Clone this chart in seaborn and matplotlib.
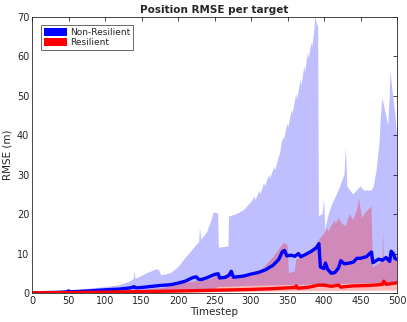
import numpy as np
import matplotlib
matplotlib.use("Agg")
import matplotlib.pyplot as plt
import seaborn as sns
from matplotlib.patches import Patch

# ---------------- data ----------------
# Non-Resilient: mean RMSE
nr_mean_t = [0, 20, 40, 48, 50, 52, 65, 80, 100, 120, 135, 140, 142, 150, 160, 175, 190, 200, 210, 220, 225, 228,
             232, 240, 250, 255, 257, 265, 270, 273, 276, 290, 300, 310, 320, 330, 338, 343, 346, 349, 355, 360,
             365, 368, 375, 382, 390, 393, 395, 400, 402, 405, 410, 415, 420, 423, 428, 435, 440, 445, 450, 458,
             465, 467, 475, 480, 485, 490, 492, 495, 497, 500]
nr_mean_v = [0.05, 0.1, 0.2, 0.3, 0.55, 0.3, 0.4, 0.55, 0.8, 1.0, 1.3, 1.6, 1.3, 1.4, 1.6, 1.9, 2.1, 2.5, 3.0, 3.9,
             4.1, 3.5, 3.4, 3.9, 4.7, 4.9, 3.8, 4.0, 4.5, 5.5, 4.0, 4.3, 4.8, 5.2, 5.9, 7.0, 8.5, 10.5, 10.8, 9.4,
             9.6, 9.3, 10.0, 9.2, 9.8, 10.5, 11.5, 12.5, 6.6, 6.2, 7.6, 6.0, 5.0, 5.2, 6.4, 8.2, 7.4, 7.6, 7.8, 8.8,
             8.8, 9.2, 10.4, 7.7, 8.6, 8.3, 9.0, 8.0, 10.6, 10.0, 8.8, 8.5]

# Non-Resilient: upper and lower band
nr_hi_t = [0, 50, 100, 120, 135, 139, 140, 142, 150, 160, 170, 174, 177, 190, 200, 210, 220, 229, 230, 232, 240,
           245, 249, 255, 256, 269, 270, 280, 290, 300, 305, 306, 312, 313, 318, 319, 325, 326, 332, 333, 338,
           340, 342, 344, 345, 350, 351, 356, 357, 362, 363, 368, 369, 373, 374, 378, 379, 383, 384, 387, 388,
           390, 392, 393, 398, 400, 402, 405, 410, 420, 428, 430, 432, 440, 445, 450, 455, 460, 465, 468, 472,
           476, 478, 480, 484, 488, 490, 491, 494, 498, 500]
nr_hi_v = [0.2, 0.6, 1.5, 2.0, 3.0, 3.5, 5.5, 3.6, 4.3, 5.2, 6.0, 5.8, 4.5, 5.0, 6.5, 8.8, 11.0, 13.0, 16.5, 13.5,
           15.5, 18.0, 20.5, 20.2, 11.5, 11.8, 19.4, 20.0, 21.0, 23.0, 24.5, 23.5, 26.0, 25.0, 28.0, 27.0, 30.0,
           29.0, 32.0, 31.0, 34.5, 35.5, 38.0, 39.5, 38.8, 43.0, 42.0, 46.5, 45.5, 50.5, 49.0, 54.0, 52.5, 57.5,
           56.0, 61.0, 59.5, 63.5, 62.5, 67.0, 70.0, 68.5, 67.5, 19.5, 20.0, 23.8, 16.0, 19.0, 22.0, 26.0, 30.0,
           37.0, 27.0, 25.0, 26.0, 27.0, 26.0, 26.0, 26.0, 27.0, 31.0, 38.0, 45.0, 49.5, 46.0, 42.5, 50.0, 56.4,
           51.0, 45.0, 40.0]
nr_lo_t = [0, 100, 200, 250, 255, 300, 350, 400, 450, 500]
nr_lo_v = [0.0, 0.1, 0.4, 1.0, 1.5, 1.8, 2.0, 2.2, 2.4, 2.6]

# Resilient: mean RMSE
r_mean_t = [0, 50, 100, 150, 200, 250, 300, 330, 350, 360, 362, 364, 380, 392, 400, 410, 420, 423, 440, 460, 475,
            480, 482, 485, 500]
r_mean_v = [0.05, 0.1, 0.2, 0.35, 0.5, 0.7, 0.9, 1.1, 1.3, 1.4, 1.8, 1.2, 1.5, 2.0, 2.0, 1.7, 2.0, 1.5, 1.8, 1.9,
            2.1, 2.2, 3.0, 2.2, 2.6]

# Resilient: upper and lower band
r_hi_t = [0, 50, 100, 150, 180, 200, 210, 225, 240, 250, 255, 258, 262, 270, 274, 285, 300, 310, 320, 330, 340,
          345, 350, 352, 360, 362, 370, 380, 390, 395, 400, 405, 406, 410, 415, 416, 420, 425, 430, 435, 440,
          445, 448, 452, 455, 460, 465, 467, 475, 480, 481, 482, 490, 500]
r_hi_v = [0.1, 0.2, 0.4, 0.8, 1.3, 2.3, 2.6, 3.0, 3.3, 4.0, 5.5, 3.5, 4.0, 5.3, 3.9, 3.8, 4.5, 5.0, 7.0, 9.0, 11.5,
          12.7, 12.2, 5.0, 5.5, 8.5, 9.0, 10.5, 12.5, 14.0, 15.0, 16.5, 15.5, 17.0, 18.5, 17.5, 19.0, 17.5, 17.0,
          20.0, 18.5, 21.0, 24.0, 19.0, 20.0, 21.0, 22.0, 6.5, 7.5, 8.0, 16.0, 8.0, 9.0, 10.0]
r_lo_t = [0, 200, 300, 400, 500]
r_lo_v = [0.0, 0.1, 0.3, 0.5, 0.6]

labels = ["Non-Resilient", "Resilient"]
x_ticks = [0, 50, 100, 150, 200, 250, 300, 350, 400, 450, 500]
y_ticks = [0, 10, 20, 30, 40, 50, 60, 70]

# ---------------- plot ----------------
sns.set_style("white")
plt.rcParams["font.family"] = ["DejaVu Sans"]

fig = plt.figure(figsize=(4.07, 3.22), dpi=100)
ax = fig.add_axes([32 / 407, 1 - 293 / 322, 365 / 407, 276 / 322])

blue_fill = (0.0, 0.0, 1.0, 0.25)
red_fill = (1.0, 0.0, 0.0, 0.28)

ax.fill(np.r_[nr_hi_t, nr_lo_t[::-1]], np.r_[nr_hi_v, nr_lo_v[::-1]], color=blue_fill, lw=0)
ax.fill(np.r_[r_hi_t, r_lo_t[::-1]], np.r_[r_hi_v, r_lo_v[::-1]], color=red_fill, lw=0)

sns.lineplot(x=nr_mean_t, y=nr_mean_v, ax=ax, color=(0, 0, 1), lw=2.4)
sns.lineplot(x=r_mean_t, y=r_mean_v, ax=ax, color=(1, 0, 0), lw=2.4)

ax.set_xlim(0, 500)
ax.set_ylim(0, 70)
ax.set_xticks(x_ticks)
ax.set_yticks(y_ticks)
ax.tick_params(direction="in", length=3, width=0.6, top=True, right=True,
               labelsize=7, colors=(0.15, 0.15, 0.15), pad=2)
for s in ax.spines.values():
    s.set_visible(True)
    s.set_color((0.15, 0.15, 0.15))
    s.set_linewidth(0.6)

ax.set_xlabel("Timestep", fontsize=7.5, color=(0.15, 0.15, 0.15), labelpad=1)
ax.set_ylabel("RMSE (m)", fontsize=7.5, color=(0.15, 0.15, 0.15), labelpad=3)
ax.set_title("Position RMSE per target", fontsize=7.5, fontweight="bold", pad=3)

handles = [Patch(facecolor=(0, 0, 1), edgecolor="none"), Patch(facecolor=(1, 0, 0), edgecolor="none")]
leg = ax.legend(handles, labels, loc="upper left", bbox_to_anchor=(0.025, 0.97), fontsize=6.5,
                frameon=True, fancybox=False, borderpad=0.3, handlelength=2.6, handleheight=0.9,
                handletextpad=0.3, labelspacing=0.15, borderaxespad=0)
leg.get_frame().set_edgecolor((0.15, 0.15, 0.15))
leg.get_frame().set_linewidth(0.6)

fig.savefig("out.png", dpi=100)
